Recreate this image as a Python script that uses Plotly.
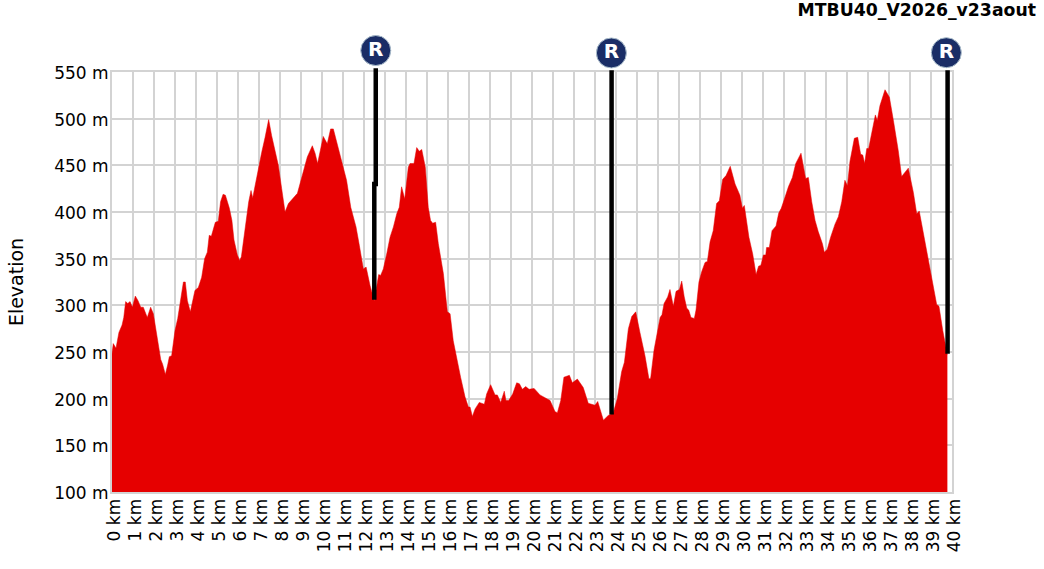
import plotly.graph_objects as go

# profile: distance (km), elevation (m)
dist_km = [0, .06, .19, .33, .48, .56, .65, .75, .86, .97, 1.11, 1.24, 1.37, 1.49, 1.68, 1.84, 1.97, 2.16, 2.32, 2.41,
           2.54, 2.65, 2.73, 2.84, 3.0, 3.13, 3.27, 3.40, 3.49, 3.59, 3.73, 3.84, 3.95, 4.11, 4.27, 4.41, 4.54, 4.63,
           4.73, 4.92, 5.06, 5.17, 5.29, 5.40, 5.59, 5.71, 5.81, 5.97, 6.08, 6.16, 6.25, 6.38, 6.51, 6.62, 6.70, 6.83,
           6.97, 7.13, 7.29, 7.46, 7.60, 7.76, 7.92, 8.08, 8.24, 8.40, 8.63, 8.83, 8.95, 9.11, 9.30, 9.54, 9.67, 9.79,
           9.94, 10.06, 10.25, 10.41, 10.54, 10.70, 10.86, 11.02, 11.17, 11.37, 11.62, 11.78, 11.97, 12.10, 12.29, 12.49,
           12.60, 12.70, 12.79, 12.92, 13.08, 13.24, 13.40, 13.56, 13.68, 13.79, 13.94, 14.11, 14.19, 14.38, 14.51, 14.63,
           14.75, 14.92, 15.06, 15.17, 15.27, 15.41, 15.54, 15.78, 15.97, 16.10, 16.25, 16.41, 16.60, 16.81, 16.97, 17.05,
           17.16, 17.29, 17.49, 17.73, 17.84, 18.03, 18.24, 18.35, 18.51, 18.68, 18.76, 18.89, 19.08, 19.27, 19.40, 19.54,
           19.70, 19.86, 20.10, 20.38, 20.86, 21.10, 21.21, 21.37, 21.52, 21.78, 21.92, 22.16, 22.44, 22.68, 23.0, 23.13,
           23.40, 23.63, 23.87, 24.06, 24.27, 24.40, 24.59, 24.75, 24.94, 25.14, 25.38, 25.57, 25.65, 25.81, 25.94, 26.10,
           26.19, 26.29, 26.46, 26.57, 26.73, 26.86, 27.02, 27.13, 27.25, 27.37, 27.46, 27.57, 27.73, 27.81, 27.95, 28.08,
           28.24, 28.35, 28.48, 28.63, 28.79, 28.92, 29.08, 29.24, 29.44, 29.67, 29.90, 30.02, 30.11, 30.33, 30.51, 30.67,
           30.79, 30.90, 31.02, 31.13, 31.17, 31.30, 31.43, 31.62, 31.75, 31.87, 32.05, 32.21, 32.40, 32.56, 32.81, 33.03,
           33.16, 33.32, 33.48, 33.63, 33.83, 33.92, 34.06, 34.22, 34.43, 34.59, 34.75, 34.90, 35.02, 35.14, 35.35, 35.51,
           35.65, 35.75, 35.84, 35.94, 36.03, 36.14, 36.25, 36.35, 36.44, 36.57, 36.81, 37.02, 37.21, 37.44, 37.60, 37.76,
           37.92, 38.16, 38.32, 38.44, 38.63, 38.90, 39.11, 39.27, 39.38, 39.56, 39.78]
elevation = [248, 259, 254, 271, 279, 287, 304, 302, 304, 298, 310, 305, 298, 298, 287, 298, 291, 264, 242, 237,
             226, 236, 245, 246, 273, 286, 309, 325, 325, 305, 293, 304, 316, 319, 330, 350, 357, 375,
             374, 389, 390, 411, 419, 418, 404, 391, 370, 354, 348, 352, 368, 387, 411, 423, 415, 430,
             448, 464, 480, 499, 482, 466, 450, 425, 400, 409, 415, 420, 430, 443, 459, 471, 463, 452,
             470, 481, 473, 489, 489, 475, 464, 448, 434, 405, 384, 364, 339, 341, 321, 305,
             320, 333, 332, 339, 355, 373, 384, 398, 405, 427, 414, 448, 452, 452, 469, 465,
             467, 448, 405, 391, 388, 389, 366, 334, 293, 291, 262, 243, 223, 202, 191, 191,
             181, 189, 196, 194, 205, 215, 204, 204, 196, 208, 198, 198, 205, 217, 216, 210,
             213, 210, 211, 204, 198, 186, 185, 198, 223, 225, 217, 221, 212, 195, 193, 197,
             177, 182, 185, 200, 229, 239, 275, 288, 293, 271, 246, 221, 222, 252, 266, 287,
             290, 302, 309, 317, 299, 315, 317, 326, 309, 297, 295, 287, 286, 295, 325, 336,
             346, 347, 368, 380, 409, 412, 435, 439, 449, 430, 418, 404, 407, 373, 355, 333,
             342, 343, 354, 354, 362, 362, 380, 385, 399, 404, 416, 427, 437, 452, 463, 436,
             437, 411, 391, 379, 366, 357, 360, 373, 387, 395, 411, 434, 428, 454, 479, 480,
             462, 461, 452, 468, 468, 480, 491, 504, 498, 514, 531, 523, 498, 466, 438, 443,
             447, 421, 398, 401, 379, 348, 320, 301, 299, 273, 247]

# refuel posts: black line pieces and the R badges
line1_km = [12.56, 12.56, 12.49, 12.49]
line1_m = [554, 430, 430, 306]
line2_km = [23.79, 23.79]
line2_m = [552, 183]
line3_km = [39.79, 39.79]
line3_m = [552, 248]
badge_km = [12.56, 23.78, 39.73]
badge_m = [573, 570.4, 570.7]

x_ticks = list(range(0, 41))
y_ticks = list(range(100, 551, 50))
font_name = "DejaVu Sans"
grid = "#d3d3d3"

fig = go.Figure()
fig.add_trace(go.Scatter(x=dist_km, y=elevation, mode="lines", fill="tozeroy",
                         fillcolor="#e60000", line=dict(color="#e60000", width=0.5)))
# posts and badges stick out of the grid, so they sit on a larger hidden axis pair
for lx, ly in [(line1_km, line1_m), (line2_km, line2_m), (line3_km, line3_m)]:
    fig.add_trace(go.Scatter(x=lx, y=ly, mode="lines", xaxis="x2", yaxis="y2",
                             line=dict(color="black", width=4.5)))
fig.add_trace(go.Scatter(x=badge_km, y=badge_m, mode="markers+text", xaxis="x2", yaxis="y2",
                         marker=dict(size=30, color="#1a2d66", line=dict(color="#a9bccb", width=1)),
                         text=["R"] * len(badge_km), textposition="middle center",
                         textfont=dict(family=font_name, size=20, color="white", weight="bold")))

fig.update_layout(
    width=1044, height=569,
    margin=dict(l=112, r=72, t=28, b=77),
    showlegend=False,
    plot_bgcolor="rgba(0,0,0,0)", paper_bgcolor="white",
    font=dict(family=font_name, size=17, color="black"),
    title=dict(text="<b>MTBU40_V2026_v23aout</b>", x=1036 / 1044, xanchor="right",
               y=1 - 10 / 569, yanchor="middle", font=dict(family=font_name, size=17.3, color="black")),
    xaxis=dict(range=[0, 40], domain=[0, 840 / 860], tickvals=x_ticks, ticktext=[f"{v} km" for v in x_ticks],
               tickangle=-90, showgrid=True, gridcolor=grid, gridwidth=2, zeroline=False,
               showline=True, linecolor=grid, linewidth=2, mirror=True, ticks="",
               ticklabelstandoff=-2, ticklabelshift=2),
    yaxis=dict(range=[100, 550], domain=[0, 420 / 464], tickvals=y_ticks, ticktext=[f"{v} m" for v in y_ticks],
               showgrid=True, gridcolor=grid, gridwidth=2, zeroline=False,
               showline=True, linecolor=grid, linewidth=2, mirror=True, ticks="",
               ticklabelstandoff=-2, ticklabelshift=1,
               title=dict(text="Elevation", font=dict(size=19), standoff=26)),
    xaxis2=dict(range=[0, 40 * 860 / 840], domain=[0, 1], anchor="y2", visible=False),
    yaxis2=dict(range=[100, 100 + 464 * 450 / 420], domain=[0, 1], anchor="x2", visible=False),
)

# drop the default page margin so the figure starts at the window corner
fig.write_html("out.html", config=dict(displayModeBar=False),
               post_script="document.body.style.margin='0'")
